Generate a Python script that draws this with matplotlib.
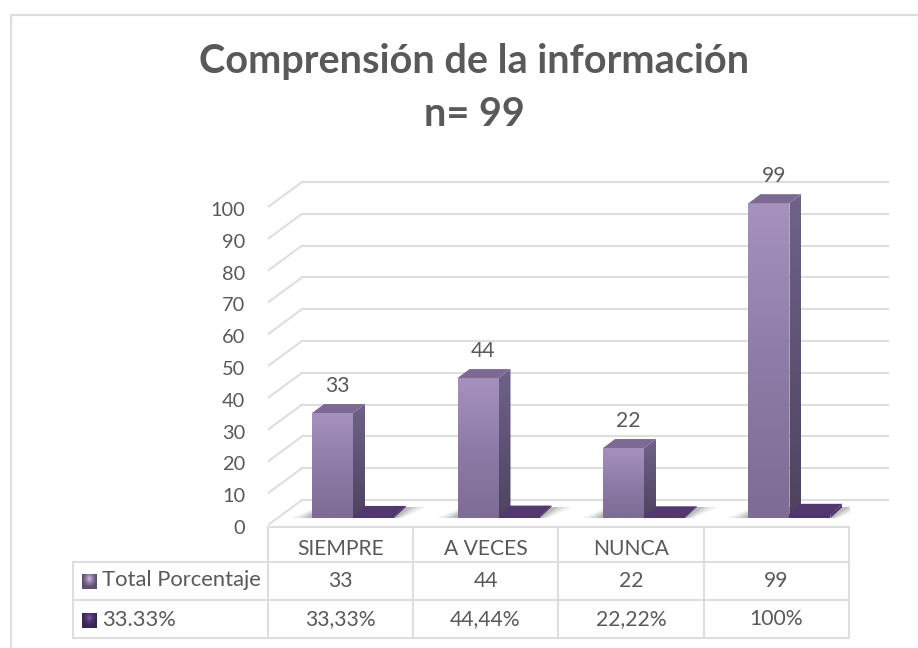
import numpy as np
import matplotlib
matplotlib.use("Agg")
import matplotlib.pyplot as plt
from matplotlib.colors import LinearSegmentedColormap
from matplotlib.patches import Polygon
from matplotlib.transforms import ScaledTranslation

# ===========================
# Datos
# ===========================
categorias = ["SIEMPRE", "A VECES", "NUNCA", ""]
total_porcentaje = [33, 44, 22, 99]
serie_porcentaje = [0.3333, 0.4444, 0.2222, 1.0]
fila_total = ["33", "44", "22", "99"]
fila_porcentaje = ["33,33%", "44,44%", "22,22%", "100%"]
nombres_series = ["Total Porcentaje", "33.33%"]
marcas_y = list(range(0, 101, 10))
titulo = "Comprensión de la información\nn= 99"

plt.rcParams['font.family'] = ['Lato', 'DejaVu Sans']
GRIS_TEXTO = '#595959'
GRIS_LINEA = '#DEDEDE'

# escalas de la zona de barras (pixeles de la figura)
W, H = 918, 648
PX_X = 145.5   # pixeles por categoria
PX_Y = 3.18    # pixeles por unidad
X0, Y0 = 268, 518

fig = plt.figure(figsize=(W / 100, H / 100), dpi=100)

# capa de fondo en pixeles: marco y tabla
fondo = fig.add_axes([0, 0, 1, 1])
fondo.set_xlim(0, W)
fondo.set_ylim(H, 0)
fondo.axis('off')

ax = fig.add_axes([X0 / W, (H - Y0 - 10 * PX_Y) / H, 4 * PX_X / W, 130 * PX_Y / H])
ax.set_xlim(0, 4)
ax.set_ylim(-10, 120)
ax.patch.set_alpha(0)
for s in ax.spines.values():
    s.set_visible(False)

# profundidad en unidades de datos
def px_x(p):
    return p / PX_X

def px_y(p):
    return p / PX_Y

# ===========================
# Paredes 3D
# ===========================
fondo_dx, fondo_dy = px_x(34), px_y(18)
frente_dy = px_y(-7)
for v in marcas_y:
    ax.plot([0, fondo_dx], [v + frente_dy, v + fondo_dy], color=GRIS_LINEA, lw=1.5, zorder=1)
    ax.plot([fondo_dx, 4 + px_x(38)], [v + fondo_dy, v + fondo_dy], color=GRIS_LINEA, lw=1.5,
            zorder=1, clip_on=False)

# ===========================
# Barras con degradado
# ===========================
def degradado(colores, extent, clip=None, z=3):
    cmap = LinearSegmentedColormap.from_list('g', colores)
    im = ax.imshow(np.linspace(0, 1, 64).reshape(-1, 1), cmap=cmap, extent=extent,
                   aspect='auto', origin='upper', zorder=z, interpolation='bilinear')
    if clip is not None:
        p = Polygon(clip, closed=True, transform=ax.transData)
        im.set_clip_path(p)
    return im

def barra(x, v, ancho, dx, dy, frente, lado, tapa, z=3):
    degradado(frente, [x, x + ancho, 0, v], z=z)
    caja = [(x + ancho, 0), (x + ancho + dx, dy), (x + ancho + dx, v + dy), (x + ancho, v)]
    degradado(lado, [x + ancho, x + ancho + dx, 0, v + dy], clip=caja, z=z)
    ax.add_patch(Polygon([(x, v), (x + dx, v + dy), (x + ancho + dx, v + dy), (x + ancho, v)],
                         closed=True, facecolor=tapa, edgecolor='none', zorder=z + 0.1))

def sombra(x0, x1, dx, dy):
    # sombra suave sobre el piso
    for k, a in zip([20, 13, 7], [0.10, 0.14, 0.2]):
        ax.add_patch(Polygon([(x0 - px_x(k), 0), (x0 + dx - px_x(k) * 0.3, dy),
                              (x1 + dx + px_x(k), dy), (x1 + px_x(k) * 0.4, 0)],
                             closed=True, facecolor='#555555', alpha=a, edgecolor='none', zorder=2))

ancho = px_x(41)
inicio = px_x(44)
dx, dy = px_x(12), px_y(9)
dy_plano = px_y(11)
for i, (v1, v2) in enumerate(zip(total_porcentaje, serie_porcentaje)):
    x1 = i + inicio
    x2 = x1 + ancho
    sombra(x1, x2 + ancho, dx, dy_plano)
    barra(x1, v1, ancho, dx, dy, ['#A691BE', '#8E7CA8', '#7E6C96'],
          ['#6F6289', '#4E4360'], '#7C6A92')
    # la serie plana queda delante del lado de la barra
    barra(x2, v2, ancho, dx, dy_plano, ['#4F3570', '#4F3570'], ['#4F3570', '#4F3570'], '#53386F', z=4)
    ax.text(x1 + ancho / 2 + px_x(5), v1 + 8.4, fila_total[i], ha='center', va='center',
            fontsize=15.2, color=GRIS_TEXTO, zorder=5)

ax.set_xticks([])
ax.set_yticks(marcas_y)
ax.set_yticklabels([str(v) for v in marcas_y], fontsize=14.4, color=GRIS_TEXTO)
ax.tick_params(axis='y', length=0, pad=16.5)
bajar = ScaledTranslation(0, -6.5 / 72, fig.dpi_scale_trans)
for lab in ax.get_yticklabels():
    lab.set_transform(lab.get_transform() + bajar)

ax.set_xlim(0, 4)
ax.set_ylim(-10, 120)

# ===========================
# Marco y tabla
# ===========================
fondo.plot([11, 11, W], [H, 15, 15], color=GRIS_LINEA, lw=1.6)

cols = [268, 413, 558, 704, 849]
filas = [527, 562, 600, 638]
izq = 73
for x in cols:
    fondo.plot([x, x], [filas[0], filas[-1]], color=GRIS_LINEA, lw=1.5)
fondo.plot([izq, izq], [filas[1], filas[-1]], color=GRIS_LINEA, lw=1.5)
fondo.plot([cols[0], cols[-1]], [filas[0], filas[0]], color=GRIS_LINEA, lw=1.5)
for y in filas[1:]:
    fondo.plot([izq, cols[-1]], [y, y], color=GRIS_LINEA, lw=1.5)

for fila_y, textos in zip([549, 581, 619], [categorias, fila_total, fila_porcentaje]):
    for j, t in enumerate(textos):
        fondo.text((cols[j] + cols[j + 1]) / 2, fila_y, t, ha='center', va='center',
                   fontsize=15.2, color=GRIS_TEXTO)

# leyenda dentro de la tabla, cuadro con brillo arriba al centro
colores_ley = [['#CDBFE0', '#8D7BA6', '#5E5070'], ['#7A58A2', '#4F3570', '#3A2556']]
yy, xx = np.mgrid[0:1:16j, -1:1:16j]
brillo = np.clip(np.hypot(xx, (yy - 0.3) * 1.6), 0, 1)
for y, nombre, c in zip([581.5, 620.5], nombres_series, colores_ley):
    cmap = LinearSegmentedColormap.from_list('l', c)
    fondo.imshow(brillo, cmap=cmap, extent=[82, 97, y + 7.5, y - 7.5],
                 aspect='auto', origin='upper', zorder=2, vmin=0, vmax=1)
    fondo.text(102, y - 1, nombre, ha='left', va='center', fontsize=15.8, color=GRIS_TEXTO)
fondo.set_xlim(0, W)
fondo.set_ylim(H, 0)

fondo.text(474, 62, titulo.split('\n')[0], ha='center', va='center', fontsize=28.5,
           fontweight='bold', color=GRIS_TEXTO)
fondo.text(474, 115, titulo.split('\n')[1], ha='center', va='center', fontsize=28.5,
           fontweight='bold', color=GRIS_TEXTO)

fig.savefig('out.png', dpi=100)
